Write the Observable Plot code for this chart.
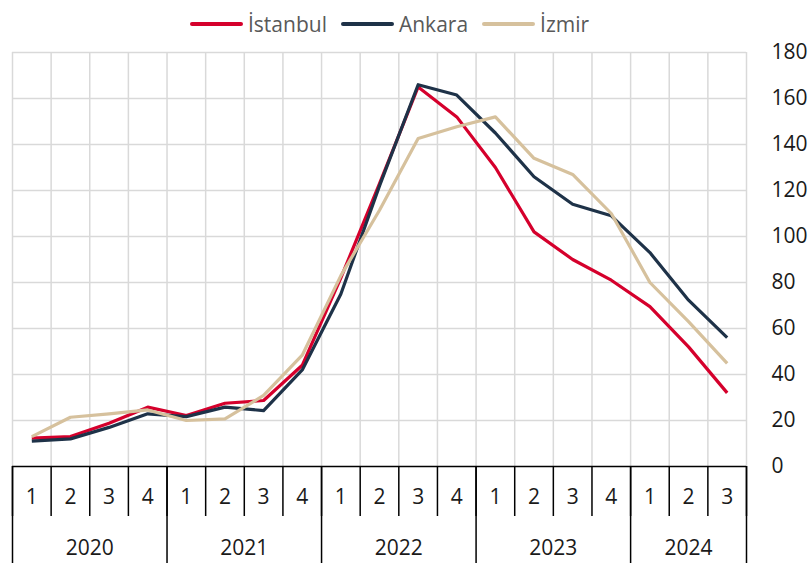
<!DOCTYPE html>
<html>
<head>
<meta charset="utf-8">
<script src="https://cdn.jsdelivr.net/npm/d3@7"></script>
<script src="https://cdn.jsdelivr.net/npm/@observablehq/plot@0.6"></script>
<style>
  html, body { margin: 0; padding: 0; background: #fff; }
  #wrap { position: relative; width: 808px; height: 563px; overflow: hidden; font-family: "Open Sans", sans-serif; }
  #legend { position: absolute; top: 8px; left: 190px; display: flex; align-items: center; font-size: 21px; color: #595959; height: 32px; }
  #legend .item { display: flex; align-items: center; margin-right: 14px; }
  #legend .sw { width: 53px; height: 4px; border-radius: 2px; margin-right: 5px; }
  #chart { position: absolute; top: 0; left: 0; }
</style>
</head>
<body>
<div id="wrap">
  <div id="chart"></div>
  <div id="legend"></div>
</div>
<script>
const years = ["2020", "2021", "2022", "2023", "2024"];
const quartersPerYear = [4, 4, 4, 4, 3];
const quarterLabels = ["1","2","3","4","1","2","3","4","1","2","3","4","1","2","3","4","1","2","3"];
const yTicks = [0, 20, 40, 60, 80, 100, 120, 140, 160, 180];

const seriesNames = ["İstanbul", "Ankara", "İzmir"];
const seriesColors = ["#d5002c", "#1e3248", "#d6c19d"];

const istanbul = [12.3, 13, 18.8, 25.8, 22.2, 27.5, 28.7, 44, 82, 123, 165, 152, 130, 102, 90, 81, 69.5, 52, 32];
const ankara   = [11, 12, 17, 22.9, 21.7, 25.8, 24.3, 42, 75, 122, 166, 161.5, 145, 126, 114, 109, 93, 72.3, 56];
const izmir    = [13, 21.4, 22.9, 24.6, 20, 20.7, 30.9, 48.4, 83, 111.4, 142.6, 147.7, 152, 134, 127, 110, 80, 63, 44.8];

const seriesValues = [istanbul, ankara, izmir];

// Build tables
const n = quarterLabels.length;
const idx = d3.range(n);
const rows = seriesNames.flatMap((name, s) =>
  seriesValues[s].map((v, i) => ({name, i, v})));
const boundaries = d3.range(n + 1);
const yearStarts = d3.cumsum([0, ...quartersPerYear]); // [0,4,8,12,16,19]
const yearRows = years.map((y, k) => ({year: y, c: (yearStarts[k] + yearStarts[k + 1]) / 2}));

const chart = Plot.plot({
  width: 808,
  height: 563,
  marginLeft: 12,
  marginRight: 62,
  marginTop: 52,
  marginBottom: 97,
  style: {fontFamily: "Open Sans, sans-serif", fontSize: "21px", color: "#1a1a1a", background: "transparent", overflow: "visible"},
  x: {domain: [0, n], axis: null},
  y: {domain: [0, 180], axis: null},
  color: {domain: seriesNames, range: seriesColors},
  marks: [
    Plot.gridX(boundaries, {stroke: "#d9d9d9", strokeOpacity: 1, strokeWidth: 1.5}),
    Plot.gridY(yTicks.filter(d => d > 0), {stroke: "#d9d9d9", strokeOpacity: 1, strokeWidth: 1.5}),
    Plot.line(rows, {x: d => d.i + 0.5, y: "v", z: "name", stroke: "name", strokeWidth: 3.2, strokeLinejoin: "round", strokeLinecap: "butt"}),
    Plot.ruleY([0], {stroke: "#000", strokeWidth: 1.5}),
    Plot.axisX(boundaries, {anchor: "bottom", label: null, tickSize: 50, tickFormat: () => "", stroke: "#000", strokeWidth: 1.5}),
    Plot.axisX(yearStarts, {anchor: "bottom", label: null, tickSize: 97, tickFormat: () => "", stroke: "#000", strokeWidth: 1.5}),
    Plot.text(idx, {x: i => i + 0.5, text: i => quarterLabels[i], frameAnchor: "bottom", dy: 37, fill: "#1a1a1a"}),
    Plot.text(yearRows, {x: "c", text: "year", frameAnchor: "bottom", dy: 88, fill: "#1a1a1a"}),
    Plot.axisY(yTicks, {anchor: "right", label: null, tickSize: 0, tickPadding: 25, textAnchor: "start", fill: "#1a1a1a"})
  ]
});
document.getElementById("chart").appendChild(chart);

const legend = document.getElementById("legend");
seriesNames.forEach((name, s) => {
  const item = document.createElement("div");
  item.className = "item";
  const sw = document.createElement("div");
  sw.className = "sw";
  sw.style.background = seriesColors[s];
  const t = document.createElement("span");
  t.textContent = name;
  item.appendChild(sw);
  item.appendChild(t);
  legend.appendChild(item);
});
</script>
</body>
</html>
